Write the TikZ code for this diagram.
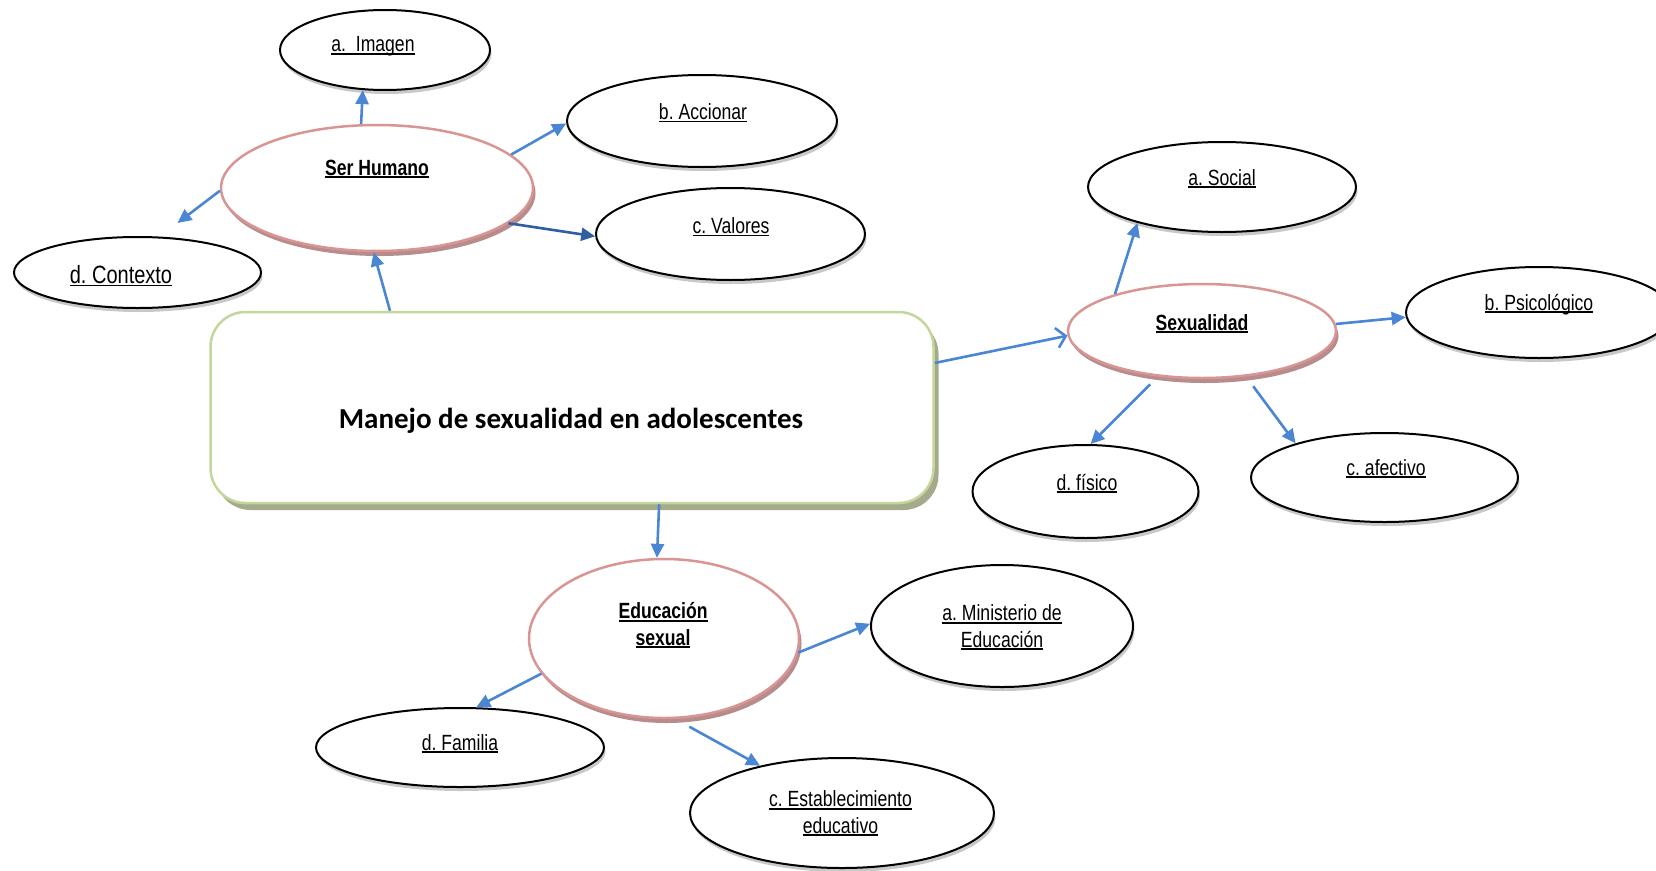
\documentclass[tikz,border=0pt]{standalone}
\usepackage{fontspec}
\setmainfont{Liberation Sans}
\newfontfamily\narrowfont[FakeStretch=0.8]{Liberation Sans}
\newfontfamily\titlefont{Carlito}
\usetikzlibrary{arrows.meta,shapes.geometric,shadows}
\frenchspacing
\definecolor{arrblue}{RGB}{74,134,212}
\definecolor{arrdark}{RGB}{47,95,158}
\definecolor{pinkb}{RGB}{217,149,148}
\definecolor{pinksh}{RGB}{182,140,140}
\definecolor{greenb}{RGB}{195,214,155}
\definecolor{greensh}{RGB}{165,170,140}
\definecolor{graysh}{RGB}{200,200,200}
\newcommand{\ulbox}[2]{\setbox0=\hbox{#2}\leavevmode\rlap{\rule[-3pt]{\wd0}{#1}}\box0}
\tikzset{
  leaf/.style={ellipse, draw=black, line width=2pt, fill=white, inner sep=0pt,
    drop shadow={shadow xshift=1.5pt, shadow yshift=-4pt, fill=graysh, opacity=1}},
  hub/.style={ellipse, draw=pinkb, line width=2.5pt, fill=white, inner sep=0pt,
    drop shadow={shadow xshift=2.5pt, shadow yshift=-5pt, fill=pinksh, opacity=1}},
  mainbox/.style={rectangle, rounded corners=35pt, draw=greenb, line width=2.5pt, fill=white,
    drop shadow={shadow xshift=5pt, shadow yshift=-7pt, fill=greensh, opacity=1}},
  lbl/.style={font=\narrowfont\fontsize{22}{26.5}\selectfont, inner sep=0pt, anchor=base, align=center},
  blbl/.style={lbl, font=\narrowfont\bfseries\fontsize{22}{26.5}\selectfont},
  conn/.style={draw=arrblue, line width=2.6pt, -{Triangle[length=14pt,width=13pt]}},
  openconn/.style={draw=arrblue, line width=2.6pt, -{Straight Barb[length=9pt,width=20pt]}}
}
\begin{document}
\begin{tikzpicture}[x=1pt, y=-1pt]
\useasboundingbox (0,0) rectangle (1656,870);
\clip (0,0) rectangle (1656,870);
% main box
\node[mainbox, minimum width=723pt, minimum height=191pt] (box) at (572,407.5) {};
\node[font=\titlefont\bfseries\fontsize{29}{34}\selectfont, anchor=base, inner sep=0pt] (ttitle) at (571,428.3) {Manejo de sexualidad en adolescentes};
% Ser Humano cluster
\node[hub, minimum width=312pt, minimum height=126pt] (serh) at (377,188) {};
\node[blbl] (tserh) at (377,175) {\ulbox{2pt}{Ser Humano}};
\node[leaf, minimum width=210pt, minimum height=80pt] (imagen) at (385,50) {};
\node[lbl] (timagen) at (373,51.7) {\ulbox{1.6pt}{a.\ \ Imagen}};
\node[leaf, minimum width=270pt, minimum height=92pt] (accionar) at (702,121) {};
\node[lbl] (taccionar) at (703,119.3) {\ulbox{1.6pt}{b. Accionar}};
\node[leaf, minimum width=269pt, minimum height=92pt] (valores) at (730.5,234) {};
\node[lbl] (tvalores) at (731,233.3) {\ulbox{1.6pt}{c. Valores}};
\node[leaf, minimum width=247pt, minimum height=71pt] (contexto) at (137.5,272.5) {};
\node[lbl, font=\narrowfont\fontsize{25}{30}\selectfont] (tcontexto) at (121,283.3) {\ulbox{1.8pt}{d. Contexto}};
% Sexualidad cluster
\node[hub, minimum width=268pt, minimum height=94pt] (sexualidad) at (1202,331) {};
\node[blbl] (tsexualidad) at (1202,330) {\ulbox{2pt}{Sexualidad}};
\node[leaf, minimum width=268pt, minimum height=90pt] (social) at (1222,187) {};
\node[lbl] (tsocial) at (1222,185) {\ulbox{1.6pt}{a. Social}};
\node[leaf, minimum width=266pt, minimum height=91pt] (psico) at (1539,312.5) {};
\node[lbl] (tpsico) at (1539,310) {\ulbox{1.6pt}{b. Psicológico}};
\node[leaf, minimum width=226pt, minimum height=93pt] (fisico) at (1085.5,491.5) {};
\node[lbl] (tfisico) at (1087,490) {\ulbox{1.6pt}{d. físico}};
\node[leaf, minimum width=267pt, minimum height=89pt] (afectivo) at (1384.5,477.5) {};
\node[lbl] (tafectivo) at (1386,475) {\ulbox{1.6pt}{c. afectivo}};
% Educacion cluster
\node[hub, minimum width=270pt, minimum height=159pt] (educ) at (664,638.5) {};
\node[blbl] (teduc) at (663,645) {\ulbox{2pt}{Educación}\\\ulbox{2pt}{sexual}};
\node[leaf, minimum width=262pt, minimum height=122pt] (minist) at (1002,626) {};
\node[lbl] (tminist) at (1002,647) {\ulbox{1.6pt}{a. Ministerio de}\\\ulbox{1.6pt}{Educación}};
\node[leaf, minimum width=304pt, minimum height=110pt] (estab) at (842,813) {};
\node[lbl] (testab) at (840.5,833) {\ulbox{1.6pt}{c. Establecimiento}\\\ulbox{1.6pt}{educativo}};
\node[leaf, minimum width=288pt, minimum height=79pt] (familia) at (460,747.5) {};
\node[lbl] (tfamilia) at (460,750) {\ulbox{1.6pt}{d. Familia}};
\coordinate (ctxtip) at (177.5,223);
% connectors
\draw[conn] (box.152.8) -- (serh.-93.6);
\draw[conn] (serh.104.3) -- (imagen.-119.7);
\draw[conn] (serh.14.7) -- (accionar.181.7);
\draw[conn, draw=arrdark] (serh.-15.1) -- (valores.181.7);
\draw[conn] (serh.181.1) -- (ctxtip);
\draw[openconn] (box.7.3) -- (sexualidad.182.1);
\draw[conn] (sexualidad.157.5) -- (social.203);
\draw[conn] (sexualidad.3.4) -- (psico.182.4);
\draw[conn, shorten <=11pt] (sexualidad.-134) -- (fisico.84.6);
\draw[conn, shorten <=12pt] (sexualidad.-46.2) -- (afectivo.159.7);
\draw[conn] (box.-48.7) -- (educ.95);
\draw[conn] (educ.-6.6) -- (minist.179.1);
\draw[conn] (educ.-164.3) -- (familia.68.7);
\draw[conn, shorten <=16pt] (educ.-82.7) -- (estab.150.6);
\end{tikzpicture}
\end{document}
